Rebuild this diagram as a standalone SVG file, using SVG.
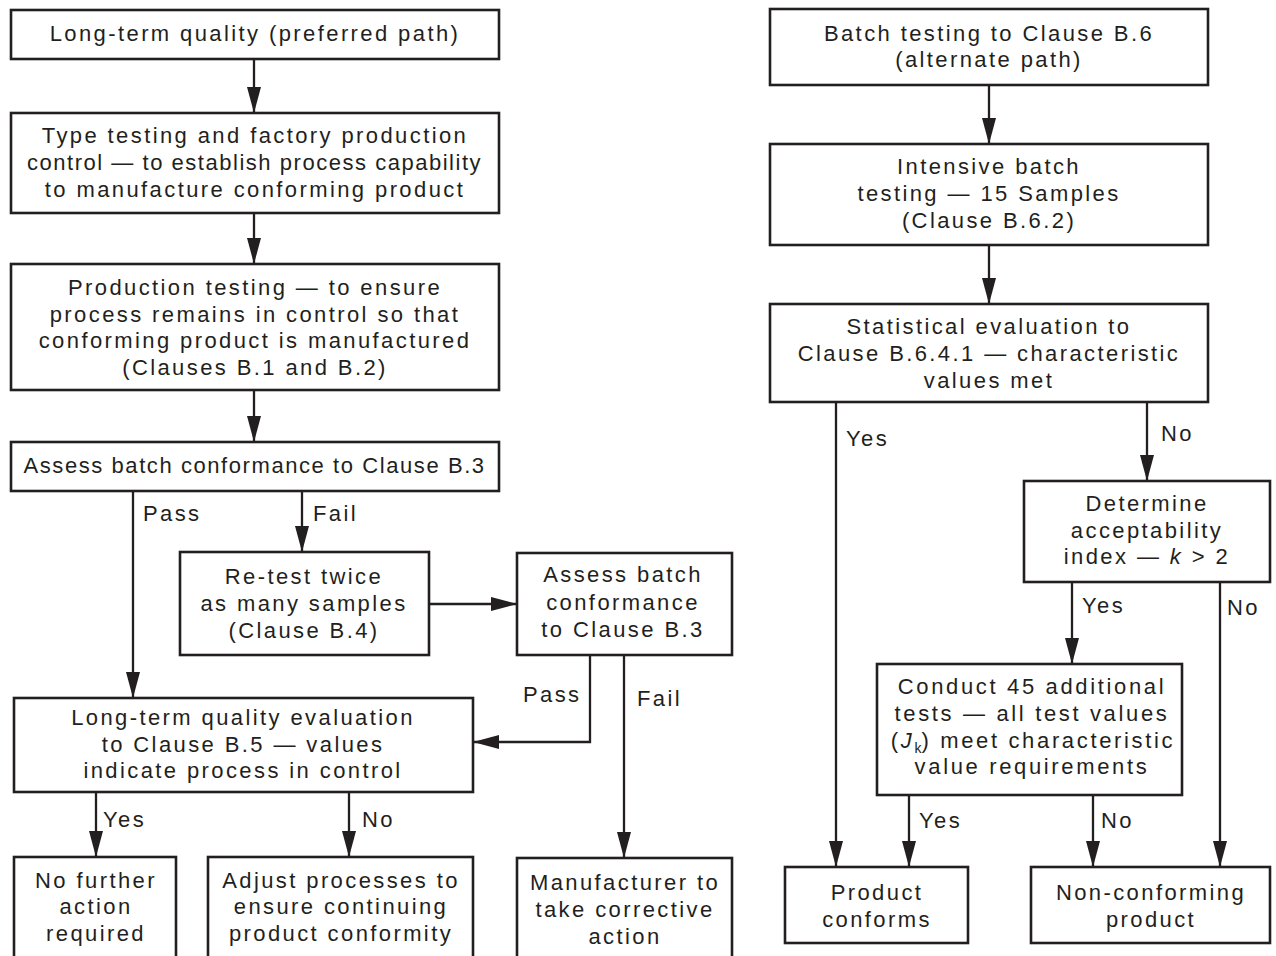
<svg xmlns="http://www.w3.org/2000/svg" width="1276" height="956" viewBox="0 0 1276 956">
<style>
.box{fill:#fff;stroke:#231f20;stroke-width:2.6}
.t{font-family:"Liberation Sans",Arial,Helvetica,sans-serif;font-size:22px;letter-spacing:2.4px;fill:#231f20;text-anchor:middle}
.l{font-family:"Liberation Sans",Arial,Helvetica,sans-serif;font-size:22px;letter-spacing:2.4px;fill:#231f20;text-anchor:start}
.w{letter-spacing:2.65px}
.c{fill:none;stroke:#231f20;stroke-width:2.3;marker-end:url(#ah)}
</style>
<defs>
<marker id="ah" markerUnits="userSpaceOnUse" markerWidth="26" markerHeight="14" refX="26" refY="7" orient="auto">
<path d="M0,0 L26,7 L0,14 z" fill="#231f20"/>
</marker>
</defs>
<rect width="1276" height="956" fill="#fff"/>
<g id="connectors">
<path class="c" d="M254,59 L254,113"/>
<path class="c" d="M254,213 L254,264"/>
<path class="c" d="M254,390 L254,442"/>
<path class="c" d="M133,491 L133,698"/>
<path class="c" d="M302,491 L302,552"/>
<path class="c" d="M429,604 L517,604"/>
<path class="c" d="M590,655 L590,742 L473,742"/>
<path class="c" d="M624,655 L624,858"/>
<path class="c" d="M96,792 L96,857"/>
<path class="c" d="M349,792 L349,857"/>
<path class="c" d="M989,85 L989,144"/>
<path class="c" d="M989,245 L989,304"/>
<path class="c" d="M836,402 L836,867"/>
<path class="c" d="M1147,402 L1147,481"/>
<path class="c" d="M1072,582 L1072,664"/>
<path class="c" d="M1220,582 L1220,867"/>
<path class="c" d="M909,795 L909,867"/>
<path class="c" d="M1093,795 L1093,867"/>
<text class="l" x="143" y="521">Pass</text>
<text class="l" x="313" y="521">Fail</text>
<text class="l" x="523" y="702">Pass</text>
<text class="l" x="637" y="706">Fail</text>
<text class="l" x="103" y="827">Yes</text>
<text class="l" x="362" y="827">No</text>
<text class="l" x="846" y="446">Yes</text>
<text class="l" x="1161" y="441">No</text>
<text class="l" x="1082" y="613">Yes</text>
<text class="l" x="1227" y="615">No</text>
<text class="l" x="919" y="828">Yes</text>
<text class="l" x="1101" y="828">No</text>
</g>
<g id="n-longterm">
<rect class="box" x="11" y="10" width="488" height="49"/>
<text class="t" x="255" y="41">Long-term quality (preferred path)</text>
</g>
<g id="n-typetesting">
<rect class="box" x="11" y="113" width="488" height="100"/>
<text class="t" x="255" y="143">Type testing and factory production</text>
<text class="t" x="255" y="170" textLength="456" lengthAdjust="spacing">control — to establish process capability</text>
<text class="t" x="255" y="197">to manufacture conforming product</text>
</g>
<g id="n-production">
<rect class="box" x="11" y="264" width="488" height="126"/>
<text class="t" x="255" y="295">Production testing — to ensure</text>
<text class="t" x="255" y="322">process remains in control so that</text>
<text class="t" x="255" y="348">conforming product is manufactured</text>
<text class="t" x="255" y="375">(Clauses B.1 and B.2)</text>
</g>
<g id="n-assess1">
<rect class="box" x="11" y="442" width="488" height="49"/>
<text class="t" x="255" y="473" textLength="463" lengthAdjust="spacing">Assess batch conformance to Clause B.3</text>
</g>
<g id="n-retest">
<rect class="box" x="180" y="552" width="249" height="103"/>
<text class="t" x="304" y="584">Re-test twice</text>
<text class="t" x="304" y="611">as many samples</text>
<text class="t" x="304" y="638">(Clause B.4)</text>
</g>
<g id="n-assess2">
<rect class="box" x="517" y="553" width="215" height="102"/>
<text class="t" x="623" y="582">Assess batch</text>
<text class="t" x="623" y="610">conformance</text>
<text class="t" x="623" y="637">to Clause B.3</text>
</g>
<g id="n-ltqe">
<rect class="box" x="14" y="698" width="459" height="94"/>
<text class="t" x="243" y="725">Long-term quality evaluation</text>
<text class="t" x="243" y="752">to Clause B.5 — values</text>
<text class="t" x="243" y="778">indicate process in control</text>
</g>
<g id="n-nofurther">
<rect class="box" x="14" y="857" width="162" height="110"/>
<text class="t" x="96" y="888">No further</text>
<text class="t" x="96" y="914">action</text>
<text class="t" x="96" y="941">required</text>
</g>
<g id="n-adjust">
<rect class="box" x="208" y="857" width="265" height="110"/>
<text class="t" x="341" y="888">Adjust processes to</text>
<text class="t" x="341" y="914">ensure continuing</text>
<text class="t" x="341" y="941">product conformity</text>
</g>
<g id="n-manufacturer">
<rect class="box" x="517" y="858" width="215" height="110"/>
<text class="t" x="625" y="890">Manufacturer to</text>
<text class="t" x="625" y="917">take corrective</text>
<text class="t" x="625" y="944">action</text>
</g>
<g id="n-batch">
<rect class="box" x="770" y="9" width="438" height="76"/>
<text class="t" x="989" y="41">Batch testing to Clause B.6</text>
<text class="t" x="989" y="67">(alternate path)</text>
</g>
<g id="n-intensive">
<rect class="box" x="770" y="144" width="438" height="101"/>
<text class="t" x="989" y="174">Intensive batch</text>
<text class="t" x="989" y="201">testing — 15 Samples</text>
<text class="t" x="989" y="228">(Clause B.6.2)</text>
</g>
<g id="n-statistical">
<rect class="box" x="770" y="304" width="438" height="98"/>
<text class="t" x="989" y="334">Statistical evaluation to</text>
<text class="t" x="989" y="361">Clause B.6.4.1 — characteristic</text>
<text class="t" x="989" y="388">values met</text>
</g>
<g id="n-determine">
<rect class="box" x="1024" y="481" width="246" height="101"/>
<text class="t" x="1147" y="511">Determine</text>
<text class="t" x="1147" y="538">acceptability</text>
<text class="t" x="1147" y="564">index — <tspan font-style="italic">k</tspan> &gt; 2</text>
</g>
<g id="n-conduct">
<rect class="box" x="877" y="664" width="305" height="131"/>
<text class="t w" x="1032" y="694">Conduct 45 additional</text>
<text class="t w" x="1032" y="721">tests — all test values</text>
<text class="t w" x="1033" y="748">(<tspan font-style="italic">J</tspan><tspan font-size="14" dy="5" letter-spacing="0">k</tspan><tspan dy="-5">) meet characteristic</tspan></text>
<text class="t w" x="1032" y="774">value requirements</text>
</g>
<g id="n-conforms">
<rect class="box" x="785" y="867" width="183" height="76"/>
<text class="t" x="877" y="900">Product</text>
<text class="t" x="877" y="927">conforms</text>
</g>
<g id="n-nonconforming">
<rect class="box" x="1031" y="867" width="239" height="76"/>
<text class="t" x="1151" y="900">Non-conforming</text>
<text class="t" x="1151" y="927">product</text>
</g>
</svg>
